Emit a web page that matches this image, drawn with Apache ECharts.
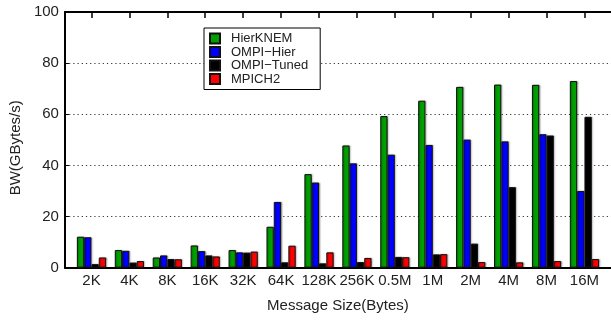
<!DOCTYPE html>
<html>
<head>
<meta charset="utf-8">
<script src="https://cdn.jsdelivr.net/npm/echarts@6/dist/echarts.min.js"></script>
<style>
  html, body { margin: 0; padding: 0; background: #fff; }
  #chart { width: 611px; height: 320px; }
</style>
</head>
<body>
<div id="chart"></div>
<script>
// Message sizes along the x axis
const sizes = ['2K', '4K', '8K', '16K', '32K', '64K', '128K', '256K', '0.5M', '1M', '2M', '4M', '8M', '16M'];

// Bandwidth (GBytes/s) per implementation
const hierKnem   = [12.1, 6.9, 4.0, 8.7, 6.9, 16.0, 36.6, 47.8, 59.3, 65.3, 70.7, 71.6, 71.5, 73.0];
const ompiHier   = [11.9, 6.6, 4.8, 6.5, 6.0, 25.7, 33.3, 40.8, 44.2, 48.0, 50.1, 49.4, 52.2, 30.0];
const ompiTuned  = [1.4, 2.0, 3.4, 4.8, 5.9, 2.1, 1.7, 2.2, 4.2, 5.2, 9.4, 31.5, 51.7, 59.0];
const mpich2     = [4.0, 2.6, 3.3, 4.4, 6.3, 8.6, 6.0, 3.8, 4.1, 5.3, 2.2, 2.1, 2.6, 3.4];

const seriesNames = ['HierKNEM', 'OMPI\u2212Hier', 'OMPI\u2212Tuned', 'MPICH2'];
const seriesColors = ['#00a000', '#0000ff', '#000000', '#ff0000'];
const seriesValues = [hierKnem, ompiHier, ompiTuned, mpich2];

// y axis ticks
const yTicks = [0, 20, 40, 60, 80, 100];

const positions = sizes.map((_, i) => i);
const font = 'Liberation Sans, Arial, Helvetica, sans-serif';

const chart = echarts.init(document.getElementById('chart'), null, { renderer: 'canvas' });

chart.setOption({
  animation: false,
  backgroundColor: '#fff',
  grid: { left: 64.5, top: 12, width: 550, height: 255.7 },
  legend: {
    orient: 'vertical',
    left: 204,
    top: 28,
    padding: [4, 12, 4, 5],
    itemWidth: 10,
    itemHeight: 10,
    itemGap: 0.5,
    borderColor: '#000',
    borderWidth: 1,
    backgroundColor: '#fff',
    icon: 'rect',
    textStyle: { fontFamily: font, fontSize: 13, lineHeight: 12, color: '#222', padding: [0, 0, 0, 6] },
    data: seriesNames
  },
  xAxis: [
    {
      type: 'value',
      min: -0.7,
      max: 13.7,
      position: 'bottom',
      name: 'Message Size(Bytes)',
      nameLocation: 'middle',
      nameGap: 31,
      nameTextStyle: { fontFamily: font, fontSize: 15, color: '#222' },
      axisLine: { show: true, onZero: false, lineStyle: { color: '#000', width: 2 } },
      axisTick: { show: false },
      splitLine: { show: false },
      axisLabel: {
        customValues: positions,
        formatter: v => sizes[Math.round(v)],
        fontFamily: font, fontSize: 15, color: '#222', margin: 6
      }
    },
    {
      type: 'value',
      min: -0.7,
      max: 13.7,
      position: 'top',
      axisLine: { show: true, onZero: false, lineStyle: { color: '#000', width: 2 } },
      axisTick: { show: true, inside: true, length: 6, customValues: positions, lineStyle: { color: '#000', width: 1.5 } },
      axisLabel: { show: false },
      splitLine: { show: false }
    }
  ],
  yAxis: {
    type: 'value',
    min: yTicks[0],
    max: yTicks[yTicks.length - 1],
    interval: 20,
    name: 'BW(GBytes/s)',
    nameLocation: 'middle',
    nameGap: 40,
    nameTextStyle: { fontFamily: font, fontSize: 15, color: '#222', padding: [0, 16, 0, 0] },
    axisLine: { show: true, onZero: false, lineStyle: { color: '#000', width: 2 } },
    axisTick: { show: true, inside: true, length: 4, lineStyle: { color: '#000' } },
    axisLabel: { fontFamily: font, fontSize: 15, color: '#222', margin: 6 },
    splitLine: { show: true, lineStyle: { color: '#333', width: 1, type: [1.2, 3] } }
  },
  series: seriesValues.map((vals, k) => ({
    name: seriesNames[k],
    type: 'bar',
    xAxisIndex: 0,
    barWidth: 7.3,
    barGap: '0%',
    data: vals.map((v, i) => [i, v]),
    itemStyle: {
      color: seriesColors[k],
      borderColor: '#111',
      borderWidth: 1,
      shadowColor: 'rgba(0,0,0,0.35)',
      shadowBlur: 1.5,
      shadowOffsetX: 1
    }
  }))
});
</script>
</body>
</html>
